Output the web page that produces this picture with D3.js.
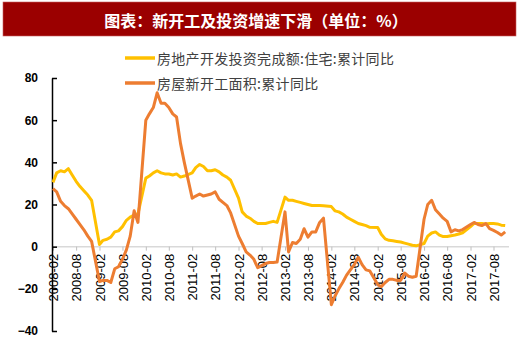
<!DOCTYPE html>
<html>
<head>
<meta charset="utf-8">
<script src="https://cdn.jsdelivr.net/npm/d3@7"></script>
<style>
  body { margin: 0; background: #fff; }
  svg { display: block; }
</style>
</head>
<body>
<svg id="chart" width="520" height="350"></svg>
<script>
// ---------------- DATA ----------------
const title = "图表：新开工及投资增速下滑（单位：%）";
const seriesNames = ["房地产开发投资完成额:住宅:累计同比", "房屋新开工面积:累计同比"];
const years = [2008, 2009, 2010, 2011, 2012, 2013, 2014, 2015, 2016, 2017];
const monthsOfYear = ["02", "03", "04", "05", "06", "07", "08", "09", "10", "11", "12"];
const lastMonth = "2017-11";

// 房地产开发投资完成额:住宅:累计同比 (Feb..Dec each year)
const investment = [
  30.5, 35, 36, 35.5, 37, 34, 31, 28.5, 26.5, 24.5, 22,        // 2008
  1, 3, 3.5, 4.5, 7, 7.5, 9.5, 12.5, 14, 15, 15.5,              // 2009
  32.5, 33.5, 35, 36, 35, 34.5, 34.5, 34, 34.5, 33, 33.5,       // 2010
  35, 37.5, 39, 38, 36, 36, 36.5, 35.5, 34, 33, 31.5,           // 2011
  23, 16.5, 14.5, 13.5, 12, 11, 11, 11, 11.5, 12, 11.5,         // 2012
  23.5, 22, 22, 21.5, 21, 20.5, 20, 19.5, 19.5, 19.5, 19.4,     // 2013
  19, 17, 16.5, 15.5, 14, 13, 12, 11, 10.5, 10, 9.2,            // 2014
  9.1, 5.9, 3.7, 3.0, 2.8, 2.5, 2.2, 1.7, 1.2, 0.7, 0.4,        // 2015
  1.5, 5, 6.5, 7, 5.5, 4.8, 4.8, 5.2, 5.5, 6, 6.6,              // 2016
  9.5, 11, 11, 11, 10.8, 11, 11, 10.8, 10.2, 10                 // 2017
];

// 房屋新开工面积:累计同比 (Feb..Dec each year)
const newStarts = [
  27.5, 26, 21.5, 19.5, 18, 15.5, 13, 10.5, 8, 5, 2.5,          // 2008
  -16.5, -16, -16, -17, -10.5, -9.5, -6, -1.5, 5, 17, 11.5,     // 2009
  60, 63, 66, 73, 68, 68, 66, 63, 61.5, 49, 40,                 // 2010
  23, 24, 25, 24, 24.5, 25, 26, 22.5, 21, 19.5, 16,             // 2011
  5, 1.5, -2.5, -4, -6, -10, -9, -8, -7.5, -7.5, -7.3,          // 2012
  16.5, -2.5, 2, 1.5, 3.5, 8.5, 4.5, 7, 7, 11.5, 13.5,          // 2013
  -27.5, -23.5, -20, -17, -13.5, -11, -8.5, -5, -8.5, -11, -11.5, // 2014
  -18, -19, -17, -15.5, -15.5, -16, -16, -12.5, -14, -14.5, -14,  // 2015
  13, 20, 22, 17.5, 15.5, 13.5, 12, 7, 8, 7.5, 8.1,             // 2016
  10.5, 11.5, 10.5, 10, 11, 8.5, 7.7, 6.7, 5.5, 7               // 2017
];

const yTicks = [-40, -20, 0, 20, 40, 60, 80];
const xTickLabels = [
  "2008-02", "2008-08", "2009-02", "2009-08", "2010-02", "2010-08",
  "2011-02", "2011-08", "2012-02", "2012-08", "2013-02", "2013-08",
  "2014-02", "2014-08", "2015-02", "2015-08", "2016-02", "2016-08",
  "2017-02", "2017-08"
];
const colors = ["#FFC000", "#ED7D31"];

// ---------------- BUILD ----------------
const parseMonth = d3.timeParse("%Y-%m");
const categories = years.flatMap(y => monthsOfYear.map(m => `${y}-${m}`)).filter(s => s <= lastMonth);
const seriesData = [investment, newStarts].map(vals =>
  categories.map((c, i) => ({ date: parseMonth(c), value: vals[i] }))
);

const svg = d3.select("#chart");
const W = 520, H = 350;
const plot = { left: 53, right: 509, top: 78, bottom: 331 };
const axisX = 52;

const x = d3.scaleTime()
  .domain([parseMonth("2008-02"), parseMonth("2017-12")])
  .range([plot.left, plot.right]);
const y = d3.scaleLinear().domain([-40, 80]).range([plot.bottom, plot.top]);

const cjk = "'Noto Sans CJK SC', 'Noto Sans', sans-serif";
const latin = "'Liberation Sans', Arial, sans-serif";

// Title banner
svg.append("rect")
  .attr("x", 3).attr("y", 2).attr("width", W - 7).attr("height", 34)
  .attr("fill", "#9B0000").attr("stroke", "#c86060").attr("stroke-width", 0.6);
svg.append("text")
  .attr("x", 256).attr("y", 19.5)
  .attr("text-anchor", "middle").attr("dominant-baseline", "central")
  .attr("fill", "#fff").attr("font-family", cjk).attr("font-weight", "bold")
  .attr("font-size", 16).text(title);

// X axis (at zero)
const xAxis = d3.axisBottom(x)
  .tickValues(xTickLabels.map(parseMonth))
  .tickSize(4).tickSizeOuter(0)
  .tickFormat(d3.timeFormat("%Y-%m"));
const gx = svg.append("g").attr("transform", `translate(0,${y(0)})`).call(xAxis);
gx.select(".domain").attr("stroke", "#d9d9d9").attr("stroke-width", 1.5)
  .attr("d", `M${axisX},0H${plot.right}`);
gx.selectAll(".tick line").attr("stroke", "#bfbfbf");
gx.selectAll(".tick text")
  .attr("transform", "rotate(-90)")
  .attr("text-anchor", "end")
  .attr("x", -7).attr("y", 0).attr("dy", "0.35em")
  .attr("fill", "#000").attr("font-family", latin).attr("font-size", 13);

// Y axis
const yAxis = d3.axisLeft(y).tickValues(yTicks).tickSize(-5).tickSizeOuter(0).tickPadding(14);
const gy = svg.append("g").attr("transform", `translate(${axisX},0)`).call(yAxis);
gy.select(".domain").attr("stroke", "#000").attr("stroke-width", 1.5);
gy.selectAll(".tick line").attr("stroke", "#000").attr("stroke-width", 1.5);
gy.selectAll(".tick text")
  .attr("fill", "#000").attr("font-family", latin).attr("font-weight", "bold")
  .attr("font-size", 12);

// Lines
const line = d3.line().x(d => x(d.date)).y(d => y(d.value));
seriesData.forEach((s, i) => {
  svg.append("path").datum(s)
    .attr("fill", "none").attr("stroke", colors[i]).attr("stroke-width", 3)
    .attr("stroke-linejoin", "round").attr("d", line);
});

// Legend
const legend = svg.append("g");
seriesNames.forEach((name, i) => {
  const ly = 58 + i * 25;
  legend.append("line").attr("x1", 125).attr("x2", 155).attr("y1", ly).attr("y2", ly)
    .attr("stroke", colors[i]).attr("stroke-width", 3.5);
  legend.append("text").attr("x", 157).attr("y", ly)
    .attr("dominant-baseline", "central")
    .attr("fill", "#404040").attr("font-family", cjk).attr("font-size", 14)
    .attr("letter-spacing", 0.3).text(name);
});
</script>
</body>
</html>
